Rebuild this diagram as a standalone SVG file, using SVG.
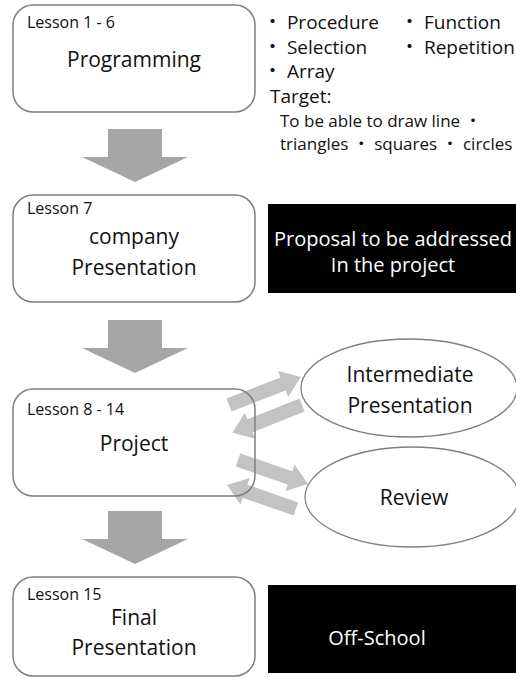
<svg xmlns="http://www.w3.org/2000/svg" width="516" height="678" viewBox="0 0 516 678">
<defs>
<style>
.box{fill:#fff;stroke:#7f7f7f;stroke-width:1.5}
.ell{fill:#fff;stroke:#7f7f7f;stroke-width:1.3}
.blk{fill:#000}
.t{font-family:"Open Sans","Noto Sans CJK JP",sans-serif;fill:#111}
.les{font-size:16px}
.big{font-size:21px;text-anchor:middle}
.bul{font-size:19px}
.tgt{font-size:17px}
.w{fill:#fff;font-size:20px;text-anchor:middle}
.down{fill:#a6a6a6}
.diag{fill:#c3c3c3}
</style>
<polygon id="downArrow" points="-27,0 27,0 27,28 53,28 0,53 -53,28 -27,28"/>
</defs>
<g id="connectors">
<use href="#downArrow" class="down" transform="translate(135,129)"/>
<use href="#downArrow" class="down" transform="translate(135,320)"/>
<use href="#downArrow" class="down" transform="translate(135,511)"/>
<polygon class="diag" points="0,-7 58,-7 58,-14 77,0 58,14 58,7 0,7" transform="translate(229,405) rotate(-21.3)"/>
<polygon class="diag" points="0,-7 56,-7 56,-14 75,0 56,14 56,7 0,7" transform="translate(302,405) rotate(158.2)"/>
<polygon class="diag" points="0,-7 55,-7 55,-14 74,0 55,14 55,7 0,7" transform="translate(238,460) rotate(18.9)"/>
<polygon class="diag" points="0,-7 54,-7 54,-14 73,0 54,14 54,7 0,7" transform="translate(296,509) rotate(199.2)"/>
</g>
<g id="programming">
<rect class="box" x="13" y="5" width="242" height="107" rx="20"/>
<text class="t les" x="27" y="28">Lesson 1 - 6</text>
<text class="t big" x="134" y="67">Programming</text>
</g>
<g id="topics">
<text class="t bul" x="263" y="29">・ Procedure</text>
<text class="t bul" x="400" y="29">・ Function</text>
<text class="t bul" x="263" y="54">・ Selection</text>
<text class="t bul" x="400" y="54">・ Repetition</text>
<text class="t bul" x="263" y="78">・ Array</text>
<text class="t bul" x="270" y="103">Target:</text>
<text class="t tgt" x="280" y="127">To be able to draw line ・</text>
<text class="t tgt" x="280" y="150">triangles ・ squares ・ circles</text>
</g>
<g id="company">
<rect class="box" x="13" y="195" width="242" height="107" rx="20"/>
<text class="t les" x="27" y="214">Lesson 7</text>
<text class="t big" x="134" y="244">company</text>
<text class="t big" x="134" y="275">Presentation</text>
</g>
<g id="proposal">
<rect class="blk" x="268" y="204" width="252" height="89"/>
<text class="t w" x="393" y="246">Proposal to be addressed</text>
<text class="t w" x="393" y="272">In the project</text>
</g>
<g id="project">
<rect class="box" x="13" y="389" width="242" height="107" rx="20" style="fill:none"/>
<text class="t les" x="27" y="415">Lesson 8 - 14</text>
<text class="t big" x="134" y="451">Project</text>
</g>
<g id="intermediate">
<ellipse class="ell" cx="409" cy="388" rx="108" ry="49"/>
<text class="t big" x="410" y="382">Intermediate</text>
<text class="t big" x="410" y="413">Presentation</text>
</g>
<g id="review">
<ellipse class="ell" cx="412" cy="497" rx="107" ry="50"/>
<text class="t big" x="414" y="505">Review</text>
</g>
<g id="final">
<rect class="box" x="13" y="577" width="242" height="99" rx="20"/>
<text class="t les" x="27" y="600">Lesson 15</text>
<text class="t big" x="134" y="625">Final</text>
<text class="t big" x="134" y="655">Presentation</text>
</g>
<g id="offschool">
<rect class="blk" x="268" y="585" width="252" height="88"/>
<text class="t w" x="377" y="645">Off-School</text>
</g>
</svg>
